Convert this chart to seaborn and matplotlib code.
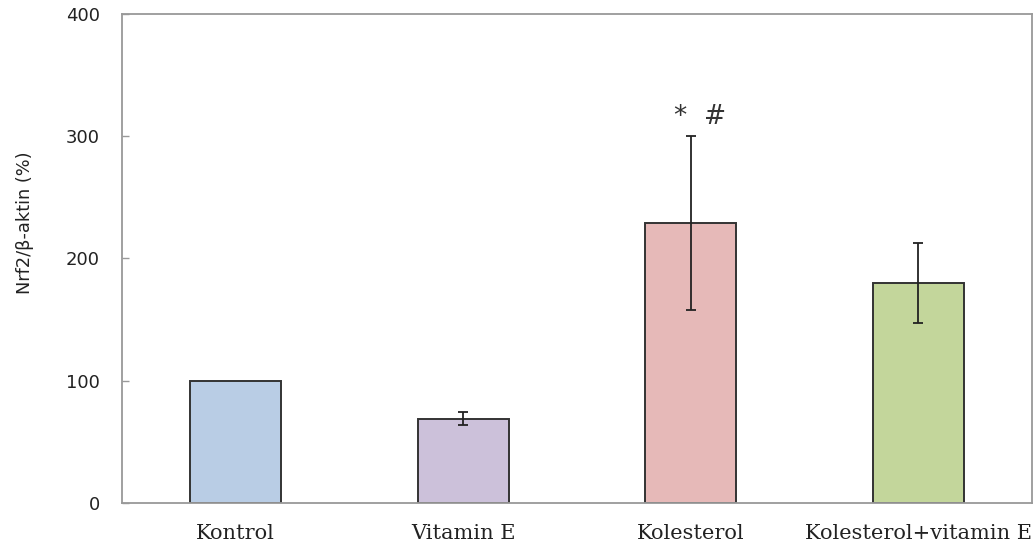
import matplotlib
matplotlib.use("Agg")
import matplotlib.pyplot as plt
import seaborn as sns
import pandas as pd

# Nrf2 expression relative to beta-actin, per treatment group
groups = ["Kontrol", "Vitamin E", "Kolesterol", "Kolesterol+vitamin E"]
means = [100, 69, 229, 180]
errors = [0, 5.5, 71, 33]
colors = ["#B9CDE5", "#CCC1DA", "#E6B9B8", "#C3D69B"]
y_ticks = [0, 100, 200, 300, 400]
significance = "*  #"

sns.set_theme(style="white")
plt.rcParams["font.family"] = ["DejaVu Sans"]

df = pd.DataFrame({"group": groups, "value": means})

fig = plt.figure(figsize=(10.34, 5.54), dpi=100)
ax = fig.add_axes([0.118, 0.092, 0.880, 0.883])

sns.barplot(data=df, x="group", y="value", hue="group", palette=colors,
            order=groups, hue_order=groups, legend=False, width=0.4,
            edgecolor="#333333", linewidth=1.4, errorbar=None, ax=ax,
            saturation=1)

# error bars
for i, (m, e) in enumerate(zip(means, errors)):
    if e > 0:
        ax.errorbar(i, m, yerr=e, fmt="none", ecolor="#222222",
                    elinewidth=1.3, capsize=3.6, capthick=1.3, zorder=5)

# significance marks above the cholesterol group
ax.text(2.04, 316, significance, ha="center", va="center",
        fontsize=19, color="#333333")

ax.set_ylim(0, 400)
ax.set_xlim(-0.5, 3.5)
ax.set_yticks(y_ticks)
ax.set_yticklabels([str(t) for t in y_ticks], fontsize=13, color="#222222")
ax.tick_params(axis="y", direction="in", length=5, width=1, color="#999999",
               left=True, pad=16)
ax.tick_params(axis="x", length=0, pad=15)
for lbl in ax.get_xticklabels():
    lbl.set_fontfamily("DejaVu Serif")
    lbl.set_fontsize(15)
    lbl.set_color("#222222")

ax.set_xlabel("")
ax.set_ylabel("")
fig.text(25 / 1034, 1 - 223 / 554, "Nrf2/β-aktin (%)", rotation=90,
         ha="center", va="center", fontsize=12.8, color="#222222")

for side in ["left", "right", "top", "bottom"]:
    ax.spines[side].set_visible(True)
    ax.spines[side].set_color("#999999")
    ax.spines[side].set_linewidth(1.3)

fig.savefig("out.png", dpi=100, facecolor="white")
